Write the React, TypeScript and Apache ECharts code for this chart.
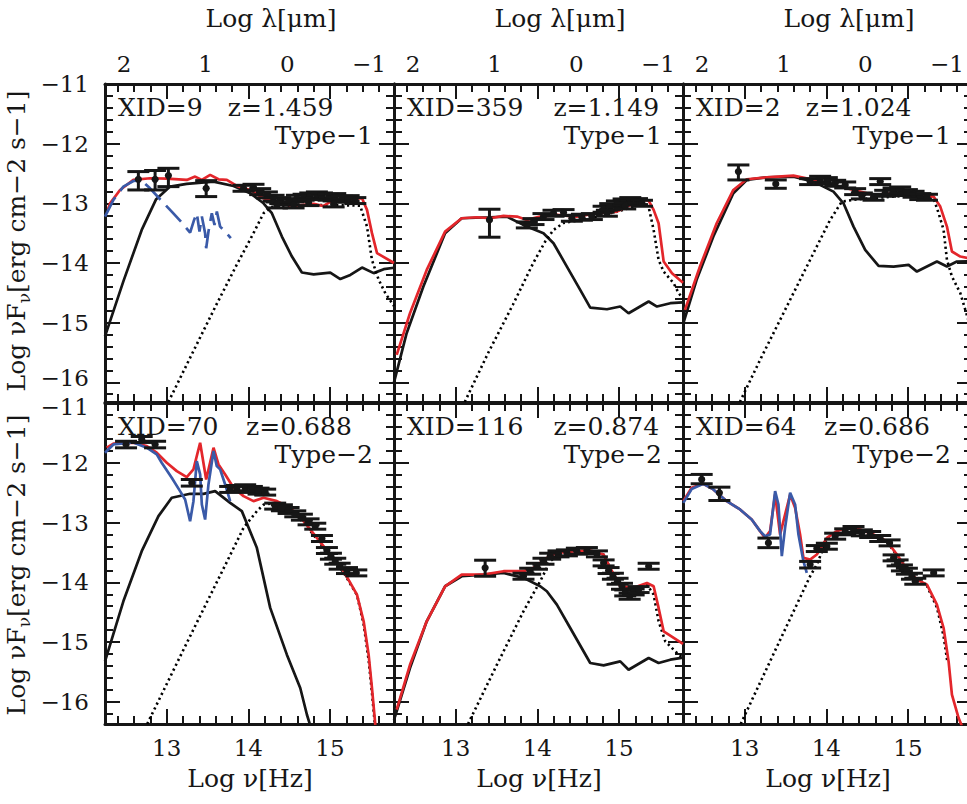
import React, { useEffect, useRef } from "react";
import * as echarts from "echarts";

// ---------- axis ranges & tick values ----------
const NU_RANGE = [12.243, 15.785];
const LOG_C_UM = 14.4768; // log10(c in micron/s)
const Y_RANGE_TOP = [-16.33, -11];
const Y_RANGE_BOTTOM = [-16.37, -11];

const nuMajorTicks = [13, 14, 15];
const nuMinorTicks = [12.4, 12.6, 12.8, 13.2, 13.4, 13.6, 13.8, 14.2, 14.4, 14.6, 14.8, 15.2, 15.4, 15.6];
const lambdaTickLabels = [2, 1, 0, -1];
const yMajorTicks = [-16, -15, -14, -13, -12, -11];
const yMinorTicks = [-16.2, -15.8, -15.6, -15.4, -15.2, -14.8, -14.6, -14.4, -14.2, -13.8, -13.6, -13.4, -13.2, -12.8, -12.6, -12.4, -12.2, -11.8, -11.6, -11.4, -11.2];

// ---------- panel labels ----------
const xids = ["9", "359", "2", "70", "116", "64"];
const redshifts = ["1.459", "1.149", "1.024", "0.688", "0.874", "0.686"];
const sourceTypes = ["Type\u22121", "Type\u22121", "Type\u22121", "Type\u22122", "Type\u22122", "Type\u22122"];

// ---------- XID=9 ----------
const agn9 = [[12.243, -15.23], [12.47, -14.3], [12.693, -13.446], [12.87, -12.93], [13.041, -12.72], [13.245, -12.675], [13.573, -12.636], [13.818, -12.709], [14.022, -12.831], [14.186, -12.999], [14.288, -13.166], [14.411, -13.557], [14.534, -13.892], [14.656, -14.16], [14.8, -14.19], [15.004, -14.16], [15.127, -14.27], [15.25, -14.2], [15.393, -14.076], [15.536, -14.17], [15.659, -14.104], [15.785, -14.08]];
const gal9 = [[13.02, -16.33], [13.3, -15.55], [13.6, -14.72], [13.85, -14.05], [14.063, -13.5], [14.186, -13.166], [14.29, -13.06], [14.5, -13.04], [14.8, -13.03], [15.1, -13.03], [15.37, -13.04], [15.454, -13.39], [15.515, -13.95], [15.597, -14.28], [15.68, -14.51], [15.785, -14.72]];
const total9 = [[12.28, -13.1], [12.305, -13.0], [12.427, -12.776], [12.591, -12.608], [12.795, -12.58], [13.0, -12.586], [13.245, -12.608], [13.348, -12.552], [13.43, -12.608], [13.532, -12.524], [13.634, -12.597], [13.736, -12.608], [13.859, -12.709], [14.022, -12.776], [14.186, -12.915], [14.35, -12.988], [14.554, -13.044], [14.8, -13.01], [14.922, -13.044], [15.045, -12.943], [15.209, -12.932], [15.393, -12.915], [15.454, -13.11], [15.515, -13.5], [15.577, -13.836], [15.785, -14.0]];
const sb9 = [[12.243, -13.222], [12.346, -12.943], [12.468, -12.72], [12.591, -12.625], [12.693, -12.619], [12.795, -12.748], [12.918, -12.932], [13.061, -13.138], [13.184, -13.323], [13.286, -13.49], [13.335, -13.278], [13.368, -13.166], [13.401, -13.474], [13.43, -13.222], [13.47, -13.502], [13.483, -13.753], [13.511, -13.474], [13.552, -13.166], [13.585, -13.362], [13.614, -13.138], [13.654, -13.39], [13.716, -13.474], [13.785, -13.585]];
const obs9 = [
  [12.652, -12.597, -12.776, -12.468], [12.857, -12.597, -12.776, -12.45], [13.02, -12.535, -12.72, -12.413], [13.483, -12.748, -12.887, -12.62],
  [13.941, -12.748, -12.798, -12.698], [14.063, -12.731, -12.781, -12.681], [14.145, -12.804, -12.854, -12.754], [14.227, -12.859, -12.909, -12.809],
  [14.309, -12.915, -12.965, -12.865], [14.391, -12.954, -13.004, -12.904], [14.493, -12.971, -13.021, -12.921], [14.595, -12.915, -12.965, -12.865],
  [14.677, -12.898, -12.948, -12.848], [14.759, -12.876, -12.926, -12.826], [14.84, -12.859, -12.909, -12.809], [14.902, -12.876, -12.926, -12.826],
  [14.984, -12.898, -12.948, -12.848], [15.065, -12.887, -12.937, -12.837], [15.147, -12.932, -12.982, -12.882], [15.229, -12.921, -12.971, -12.871],
  [15.311, -12.954, -13.004, -12.904], [14.35, -13.027, -13.077, -12.977], [14.554, -13.027, -13.077, -12.977], [14.738, -12.988, -13.038, -12.938],
  [15.045, -13.01, -13.06, -12.96]
];

// ---------- XID=359 ----------
const agn359 = [[12.243, -16.0], [12.398, -15.177], [12.603, -14.395], [12.869, -13.501], [13.073, -13.25], [13.421, -13.233], [13.626, -13.222], [13.871, -13.39], [14.075, -13.501], [14.198, -13.669], [14.362, -14.06], [14.525, -14.451], [14.648, -14.747], [14.853, -14.775], [15.016, -14.73], [15.118, -14.842], [15.364, -14.646], [15.466, -14.73], [15.63, -14.674], [15.785, -14.66]];
const gal359 = [[13.11, -16.33], [13.4, -15.5], [13.7, -14.7], [13.95, -14.0], [14.096, -13.641], [14.198, -13.446], [14.32, -13.33], [14.648, -13.25], [15.057, -13.11], [15.303, -12.999], [15.364, -13.06], [15.425, -13.446], [15.486, -13.948], [15.548, -14.144], [15.67, -14.339], [15.732, -14.506], [15.785, -14.6]];
const total359 = [[12.276, -15.54], [12.439, -14.842], [12.644, -14.116], [12.869, -13.474], [13.073, -13.25], [13.257, -13.233], [13.42, -13.25], [13.585, -13.211], [13.75, -13.222], [13.871, -13.278], [14.035, -13.222], [14.239, -13.194], [14.484, -13.222], [14.73, -13.166], [14.975, -13.138], [15.139, -13.027], [15.303, -12.943], [15.364, -12.954], [15.425, -13.11], [15.486, -13.334], [15.548, -13.976], [15.65, -14.172], [15.785, -14.33]];
const obs359 = [
  [13.413, -13.278, -13.568, -13.099],
  [13.871, -13.362, -13.412, -13.312], [13.953, -13.306, -13.356, -13.256], [14.075, -13.222, -13.272, -13.172], [14.198, -13.166, -13.216, -13.116],
  [14.321, -13.155, -13.205, -13.105], [14.423, -13.25, -13.3, -13.2], [14.546, -13.233, -13.283, -13.183], [14.668, -13.222, -13.272, -13.172],
  [14.812, -13.099, -13.149, -13.049], [14.893, -13.055, -13.105, -13.005], [14.975, -13.01, -13.06, -12.96], [15.057, -12.977, -13.027, -12.927],
  [15.139, -12.954, -13.004, -12.904], [15.221, -12.971, -13.021, -12.921], [15.282, -12.999, -13.049, -12.949], [14.852, -13.166, -13.216, -13.116],
  [15.077, -13.044, -13.094, -12.994]
];

// ---------- XID=2 ----------
const agn2 = [[12.247, -15.01], [12.41, -14.283], [12.615, -13.557], [12.86, -12.832], [13.024, -12.608], [13.269, -12.564], [13.597, -12.552], [13.842, -12.636], [14.087, -12.804], [14.21, -12.999], [14.333, -13.39], [14.476, -13.781], [14.64, -14.049], [14.824, -14.06], [15.008, -14.032], [15.11, -14.144], [15.355, -13.976], [15.478, -14.06], [15.6, -13.976], [15.785, -13.97]];
const gal2 = [[12.94, -16.33], [13.2, -15.59], [13.5, -14.77], [13.8, -13.95], [14.046, -13.278], [14.19, -12.971], [14.4, -12.93], [14.7, -12.9], [15.0, -12.87], [15.314, -12.915], [15.376, -13.166], [15.437, -13.446], [15.478, -13.948], [15.539, -14.227], [15.642, -14.506], [15.703, -14.786], [15.75, -15.0]];
const total2 = [[12.267, -14.786], [12.451, -14.06], [12.656, -13.334], [12.86, -12.776], [13.024, -12.597], [13.269, -12.564], [13.597, -12.536], [13.842, -12.608], [14.087, -12.692], [14.333, -12.776], [14.578, -12.859], [14.824, -12.832], [15.069, -12.859], [15.314, -12.887], [15.396, -13.055], [15.478, -13.39], [15.539, -13.808], [15.642, -13.892], [15.785, -13.93]];
const obs2 = [
  [12.922, -12.468, -12.608, -12.357], [13.38, -12.675, -12.748, -12.608],
  [13.801, -12.636, -12.686, -12.586], [13.924, -12.597, -12.647, -12.547], [14.006, -12.619, -12.669, -12.569], [14.108, -12.664, -12.714, -12.614],
  [14.231, -12.692, -12.742, -12.642], [14.353, -12.804, -12.854, -12.754], [14.435, -12.876, -12.926, -12.826], [14.66, -12.636, -12.686, -12.586],
  [14.578, -12.898, -12.948, -12.848], [14.721, -12.832, -12.882, -12.782], [14.824, -12.792, -12.842, -12.742], [14.905, -12.776, -12.826, -12.726],
  [14.987, -12.82, -12.87, -12.77], [15.069, -12.848, -12.898, -12.798], [15.151, -12.887, -12.937, -12.837], [15.233, -12.898, -12.948, -12.848]
];

// ---------- XID=70 ----------
const agn70 = [[12.243, -15.322], [12.468, -14.317], [12.693, -13.479], [12.898, -12.893], [13.061, -12.586], [13.286, -12.519], [13.45, -12.52], [13.593, -12.474], [13.777, -12.67], [13.92, -12.809], [14.104, -13.423], [14.268, -14.428], [14.472, -15.21], [14.636, -15.768], [14.718, -16.215], [14.76, -16.4]];
const gal70 = [[12.76, -16.37], [13.2, -15.14], [13.5, -14.31], [13.75, -13.62], [13.941, -13.088], [14.104, -12.81], [14.186, -12.7], [14.35, -12.67], [14.513, -12.78], [14.677, -13.0], [14.84, -13.28], [15.004, -13.56], [15.168, -13.84], [15.331, -14.21], [15.413, -14.7], [15.474, -15.3], [15.515, -15.85], [15.55, -16.37]];
const total70 = [[12.264, -11.748], [12.346, -11.681], [12.591, -11.665], [12.755, -11.72], [12.877, -11.832], [13.0, -12.0], [13.123, -12.139], [13.245, -12.24], [13.327, -12.111], [13.409, -11.665], [13.483, -12.279], [13.573, -11.748], [13.634, -12.028], [13.716, -12.195], [13.818, -12.418], [13.941, -12.558], [14.063, -12.642], [14.186, -12.586], [14.35, -12.642], [14.513, -12.753], [14.677, -12.977], [14.84, -13.256], [15.004, -13.535], [15.168, -13.814], [15.331, -14.205], [15.413, -14.652], [15.474, -15.21], [15.515, -15.768], [15.556, -16.383]];
const sb70 = [[12.243, -11.832], [12.346, -11.693], [12.591, -11.66], [12.755, -11.748], [12.877, -11.86], [12.938, -12.0], [13.061, -12.251], [13.163, -12.474], [13.225, -12.614], [13.286, -12.977], [13.327, -12.642], [13.368, -11.972], [13.409, -12.195], [13.43, -12.698], [13.47, -12.949], [13.511, -12.363], [13.573, -11.804], [13.613, -12.056], [13.654, -12.111], [13.716, -12.363], [13.777, -12.642]];
const obs70 = [
  [12.501, -11.693, -11.75, -11.64], [12.693, -11.609, -11.66, -11.56], [12.857, -11.693, -11.75, -11.64], [13.307, -12.335, -12.39, -12.28],
  [13.777, -12.446, -12.496, -12.396], [13.859, -12.43, -12.48, -12.38], [13.961, -12.418, -12.468, -12.368], [14.043, -12.446, -12.496, -12.396],
  [14.125, -12.474, -12.524, -12.424], [14.206, -12.491, -12.541, -12.441], [14.329, -12.725, -12.775, -12.675], [14.411, -12.753, -12.803, -12.703],
  [14.493, -12.798, -12.848, -12.748], [14.575, -12.854, -12.904, -12.804], [14.656, -12.91, -12.96, -12.86], [14.738, -12.988, -13.038, -12.938],
  [14.82, -13.061, -13.111, -13.011], [14.902, -13.267, -13.317, -13.217], [14.963, -13.468, -13.518, -13.418], [15.012, -13.563, -13.613, -13.513],
  [15.065, -13.647, -13.697, -13.597], [15.119, -13.73, -13.78, -13.68], [15.209, -13.803, -13.853, -13.753], [15.323, -13.842, -13.892, -13.792]
];

// ---------- XID=116 ----------
const agn116 = [[12.243, -16.3], [12.276, -16.159], [12.439, -15.433], [12.644, -14.652], [12.869, -14.066], [13.073, -13.898], [13.339, -13.87], [13.585, -13.842], [13.83, -13.926], [14.035, -14.066], [14.116, -14.149], [14.239, -14.373], [14.403, -14.764], [14.648, -15.35], [14.812, -15.389], [15.016, -15.322], [15.118, -15.462], [15.364, -15.266], [15.486, -15.35], [15.63, -15.294], [15.785, -15.26]];
const gal116 = [[13.15, -16.37], [13.5, -15.39], [13.83, -14.484], [14.035, -13.982], [14.157, -13.647], [14.28, -13.507], [14.648, -13.468], [14.812, -13.535], [14.93, -13.87], [15.057, -14.09], [15.221, -14.12], [15.343, -14.038], [15.425, -14.205], [15.486, -14.652], [15.568, -14.987], [15.691, -15.155], [15.785, -15.27]];
const total116 = [[12.276, -16.131], [12.439, -15.38], [12.644, -14.652], [12.869, -14.066], [13.073, -13.87], [13.339, -13.87], [13.585, -13.814], [13.83, -13.814], [13.953, -13.758], [14.116, -13.591], [14.239, -13.507], [14.484, -13.479], [14.648, -13.468], [14.812, -13.535], [14.893, -13.758], [15.016, -14.066], [15.18, -14.093], [15.343, -14.01], [15.425, -14.066], [15.486, -14.428], [15.548, -14.82], [15.785, -15.03]];
const obs116 = [
  [13.36, -13.758, -13.898, -13.63],
  [13.83, -13.898, -13.948, -13.848], [13.912, -13.814, -13.864, -13.764], [13.994, -13.731, -13.781, -13.681], [14.075, -13.647, -13.697, -13.597],
  [14.157, -13.563, -13.613, -13.513], [14.259, -13.524, -13.574, -13.474], [14.362, -13.507, -13.557, -13.457], [14.484, -13.479, -13.529, -13.429],
  [14.607, -13.468, -13.518, -13.418], [14.73, -13.524, -13.574, -13.474], [14.812, -13.675, -13.725, -13.625], [14.873, -13.803, -13.853, -13.753],
  [14.926, -13.898, -13.948, -13.848], [14.983, -13.982, -14.032, -13.932], [15.037, -14.066, -14.116, -14.016], [15.077, -14.177, -14.227, -14.127],
  [15.131, -14.233, -14.283, -14.183], [15.18, -14.161, -14.211, -14.111], [15.241, -14.121, -14.171, -14.071], [15.364, -13.731, -13.781, -13.681]
];

// ---------- XID=64 ----------
const gal64 = [[12.95, -16.37], [13.4, -15.06], [13.801, -13.898], [13.883, -13.703], [14.006, -13.28], [14.251, -13.1], [14.415, -13.13], [14.578, -13.21], [14.742, -13.32], [14.865, -13.55], [14.987, -13.8], [15.11, -13.97], [15.233, -14.06], [15.355, -14.42], [15.437, -14.9], [15.48, -15.3]];
const total64 = [[12.247, -12.642], [12.349, -12.418], [12.492, -12.351], [12.615, -12.446], [12.779, -12.642], [12.942, -12.781], [13.085, -12.949], [13.188, -13.144], [13.249, -13.256], [13.31, -13.144], [13.372, -12.53], [13.433, -13.2], [13.474, -12.977], [13.556, -12.53], [13.617, -12.753], [13.678, -13.2], [13.719, -13.591], [13.801, -13.619], [13.883, -13.535], [14.006, -13.256], [14.128, -13.144], [14.251, -13.088], [14.415, -13.116], [14.578, -13.2], [14.742, -13.312], [14.865, -13.535], [14.987, -13.786], [15.11, -13.953], [15.233, -14.038], [15.355, -14.373], [15.437, -14.764], [15.498, -15.322], [15.539, -15.88], [15.621, -16.271], [15.66, -16.4]];
const sb64 = [[12.247, -12.67], [12.349, -12.44], [12.492, -12.351], [12.615, -12.446], [12.779, -12.642], [12.942, -12.781], [13.085, -12.949], [13.188, -13.144], [13.249, -13.23], [13.31, -13.2], [13.372, -12.474], [13.413, -12.698], [13.454, -13.563], [13.494, -13.088], [13.556, -12.502], [13.617, -12.698], [13.658, -13.2], [13.719, -13.647], [13.76, -13.842]];
const obs64 = [
  [12.472, -12.279, -12.351, -12.195], [12.689, -12.502, -12.631, -12.408], [13.29, -13.34, -13.42, -13.26], [13.801, -13.703, -13.76, -13.65],
  [13.883, -13.435, -13.485, -13.385], [14.006, -13.396, -13.446, -13.346], [14.108, -13.228, -13.278, -13.178], [14.231, -13.155, -13.205, -13.105],
  [14.333, -13.116, -13.166, -13.066], [14.435, -13.172, -13.222, -13.122], [14.537, -13.2, -13.25, -13.15], [14.66, -13.267, -13.317, -13.217],
  [14.775, -13.34, -13.39, -13.29], [14.824, -13.591, -13.641, -13.541], [14.873, -13.675, -13.725, -13.625], [14.926, -13.759, -13.809, -13.709],
  [14.987, -13.814, -13.864, -13.764], [15.049, -13.898, -13.948, -13.848], [15.09, -13.982, -14.032, -13.932], [15.315, -13.842, -13.892, -13.792]
];

const panelAgn = [agn9, agn359, agn2, agn70, agn116, null];
const panelGal = [gal9, gal359, gal2, gal70, gal116, gal64];
const panelTotal = [total9, total359, total2, total70, total116, total64];
const panelSb = [sb9, null, null, sb70, null, sb64];
const panelSbDashed = [true, false, false, false, false, false];
const panelObs = [obs9, obs359, obs2, obs70, obs116, obs64];

// ---------- styling / layout ----------
const FONT = "'DejaVu Serif', 'Liberation Serif', serif";
const INK = "#161616";
const RED = "#e3262b";
const BLUE = "#3a5aa8";
const GRID_LEFTS = [105, 394, 683];
const GRID_W = 289;
const ROW_TOPS = [84, 403];
const ROW_HEIGHTS = [318, 321];

function fmtMinus(v: number) {
  return v < 0 ? "\u2212" + Math.abs(v) : String(v);
}

function buildOption() {
  const grids: any[] = [];
  const xAxes: any[] = [];
  const yAxes: any[] = [];
  const series: any[] = [];
  const graphics: any[] = [];
  const tickStyle = { color: INK, width: 2 };
  const lineAxis = { show: true, onZero: false, lineStyle: { color: INK, width: 3 } };
  const noLine = { show: false, onZero: false };
  const labelBase = { fontSize: 23, fontFamily: FONT, color: INK };
  const yLabelRich = {
    n: { fontSize: 23, fontFamily: FONT, color: INK, lineHeight: 16 },
    up: { fontSize: 23, fontFamily: FONT, color: INK, lineHeight: 16, padding: [0, 0, 8, 0] },
    dn: { fontSize: 23, fontFamily: FONT, color: INK, lineHeight: 16, padding: [8, 0, 0, 0] }
  };

  for (let i = 0; i < 6; i++) {
    const row = Math.floor(i / 3);
    const col = i % 3;
    const left = GRID_LEFTS[col];
    const top = ROW_TOPS[row];
    const height = ROW_HEIGHTS[row];
    const yr = row === 0 ? Y_RANGE_TOP : Y_RANGE_BOTTOM;
    grids.push({ left, top, width: GRID_W, height, containLabel: false, outerBoundsMode: "none", show: false });

    const xb = xAxes.length;
    const yb = yAxes.length;
    const baseX = { type: "value", gridIndex: i, min: NU_RANGE[0], max: NU_RANGE[1], splitLine: { show: false } };
    xAxes.push({ ...baseX, position: "bottom", axisLine: lineAxis,
      axisTick: { show: true, inside: true, length: 15, customValues: nuMajorTicks, lineStyle: tickStyle },
      axisLabel: { show: row === 1, customValues: nuMajorTicks, margin: 12, ...labelBase } });
    xAxes.push({ ...baseX, position: "bottom", axisLine: noLine,
      axisTick: { show: true, inside: true, length: 8, customValues: nuMinorTicks, lineStyle: tickStyle },
      axisLabel: { show: false } });
    xAxes.push({ ...baseX, position: "top", axisLine: lineAxis,
      axisTick: { show: true, inside: true, length: 15, customValues: nuMajorTicks, lineStyle: tickStyle },
      axisLabel: { show: false } });
    xAxes.push({ ...baseX, position: "top", axisLine: noLine,
      axisTick: { show: true, inside: true, length: 8, customValues: nuMinorTicks, lineStyle: tickStyle },
      axisLabel: { show: false } });
    xAxes.push({ type: "value", gridIndex: i, position: "top", min: LOG_C_UM - NU_RANGE[1], max: LOG_C_UM - NU_RANGE[0], inverse: true,
      splitLine: { show: false }, axisLine: noLine, axisTick: { show: false },
      axisLabel: { show: row === 0, customValues: lambdaTickLabels, formatter: fmtMinus, margin: 9, ...labelBase } });

    const edgeValue = row === 0 ? -16 : -11;
    const edgeStyle = row === 0 ? "up" : "dn";
    const yFormatter = (v: number) => (v === edgeValue ? "{" + edgeStyle + "|" : "{n|") + fmtMinus(v) + "}";
    const baseY = { type: "value", gridIndex: i, min: yr[0], max: yr[1], splitLine: { show: false } };
    yAxes.push({ ...baseY, position: "left", axisLine: lineAxis,
      axisTick: { show: true, inside: true, length: 15, customValues: yMajorTicks, lineStyle: tickStyle },
      axisLabel: { show: col === 0, customValues: yMajorTicks, formatter: yFormatter, rich: yLabelRich, margin: 16, ...labelBase } });
    yAxes.push({ ...baseY, position: "left", axisLine: noLine,
      axisTick: { show: true, inside: true, length: 8, customValues: yMinorTicks, lineStyle: tickStyle },
      axisLabel: { show: false } });
    yAxes.push({ ...baseY, position: "right", axisLine: lineAxis,
      axisTick: { show: true, inside: true, length: 15, customValues: yMajorTicks, lineStyle: tickStyle },
      axisLabel: { show: false } });
    yAxes.push({ ...baseY, position: "right", axisLine: noLine,
      axisTick: { show: true, inside: true, length: 8, customValues: yMinorTicks, lineStyle: tickStyle },
      axisLabel: { show: false } });

    const mkLine = (data: number[][], color: string, width: number, type: any, z: number) => ({
      type: "line", xAxisIndex: xb, yAxisIndex: yb, data, showSymbol: false, symbol: "none", silent: true,
      clip: true, z, lineStyle: { color, width, type }
    });
    if (panelAgn[i]) series.push(mkLine(panelAgn[i] as number[][], INK, 2.7, "solid", 2));
    series.push(mkLine(panelGal[i], "#000000", 2.6, [2.2, 3.2], 2));
    series.push(mkLine(panelTotal[i], RED, 2.7, "solid", 3));
    if (panelSb[i]) series.push(mkLine(panelSb[i] as number[][], BLUE, 2.7, panelSbDashed[i] ? [22, 8] : "solid", 4));
    series.push({
      type: "custom", xAxisIndex: xb, yAxisIndex: yb, data: panelObs[i], clip: true, silent: true, z: 6,
      encode: { x: 0, y: 1 },
      renderItem: (_p: any, api: any) => {
        const x = api.value(0);
        const c = api.coord([x, api.value(1)]);
        const lo = api.coord([x, api.value(2)]);
        const hi = api.coord([x, api.value(3)]);
        const w = 11;
        const st = { stroke: INK, lineWidth: 3, fill: null };
        return {
          type: "group",
          children: [
            { type: "line", shape: { x1: c[0], y1: lo[1], x2: c[0], y2: hi[1] }, style: st },
            { type: "line", shape: { x1: c[0] - w, y1: lo[1], x2: c[0] + w, y2: lo[1] }, style: st },
            { type: "line", shape: { x1: c[0] - w, y1: hi[1], x2: c[0] + w, y2: hi[1] }, style: st },
            { type: "circle", shape: { cx: c[0], cy: c[1], r: 3.6 }, style: { fill: INK } }
          ]
        };
      }
    });

    // panel annotations
    const tStyle = { fontSize: 25, fontFamily: FONT, fill: INK };
    const xidText = "XID=" + xids[i];
    graphics.push({ type: "text", x: left + 13, y: top + 23, z: 10,
      style: { ...tStyle, text: xidText, align: "left", verticalAlign: "middle", textAlign: "left", textVerticalAlign: "middle" } });
    graphics.push({ type: "text", x: left + 13 + 18.3 * (xidText.length + 1), y: top + 23, z: 10,
      style: { ...tStyle, text: "z=" + redshifts[i], align: "left", verticalAlign: "middle", textAlign: "left", textVerticalAlign: "middle" } });
    graphics.push({ type: "text", x: left + GRID_W - 21, y: top + 51, z: 10,
      style: { ...tStyle, text: sourceTypes[i], align: "right", verticalAlign: "middle", textAlign: "right", textVerticalAlign: "middle" } });
  }

  // axis titles
  const titleStyle = { fontSize: 25, fontFamily: FONT, fill: INK, align: "center", verticalAlign: "middle", textAlign: "center", textVerticalAlign: "middle" };
  for (let c = 0; c < 3; c++) {
    graphics.push({ type: "text", x: GRID_LEFTS[c] + 166, y: 18, style: { ...titleStyle, text: "Log \u03bb[\u03bcm]" } });
    graphics.push({ type: "text", x: GRID_LEFTS[c] + 145, y: 778, style: { ...titleStyle, text: "Log \u03bd[Hz]" } });
  }
  const yNameRich = {
    a: { fontSize: 25, fontFamily: FONT, fill: INK, verticalAlign: "top", lineHeight: 28 },
    s: { fontSize: 17, fontFamily: FONT, fill: INK, verticalAlign: "top", lineHeight: 28, padding: [11, 0, 0, 0] }
  };
  for (const cy of [241, 565]) {
    graphics.push({ type: "text", x: 18, y: cy, rotation: Math.PI / 2,
      style: { text: "{a|Log \u03bdF}{s|\u03bd}{a|[erg cm\u22122 s\u22121]}", rich: yNameRich, align: "center", verticalAlign: "middle", textAlign: "center", textVerticalAlign: "middle", fill: INK } });
  }

  return {
    animation: false,
    backgroundColor: "#ffffff",
    grid: grids,
    xAxis: xAxes,
    yAxis: yAxes,
    series,
    graphic: graphics
  };
}

export default function App() {
  const ref = useRef<HTMLDivElement>(null);
  useEffect(() => {
    const chart = echarts.init(ref.current as HTMLDivElement, null, { renderer: "svg" });
    chart.setOption(buildOption() as any);
    return () => chart.dispose();
  }, []);
  return <div ref={ref} style={{ position: "absolute", left: 0, top: 0, width: 967, height: 804 }} />;
}
